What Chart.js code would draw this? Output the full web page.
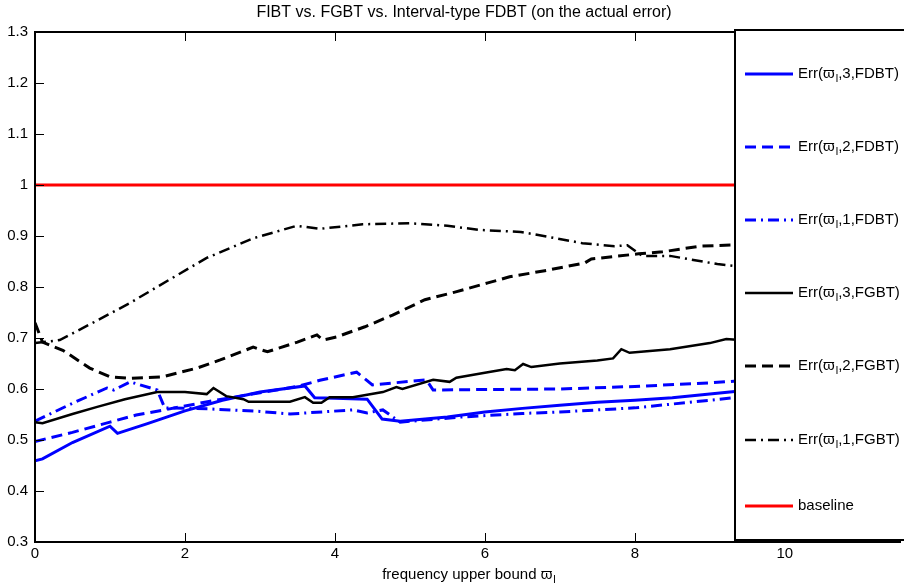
<!DOCTYPE html>
<html>
<head>
<meta charset="utf-8">
<script src="https://cdn.jsdelivr.net/npm/chart.js@4.4.1/dist/chart.umd.min.js"></script>
<style>
  html, body { margin: 0; padding: 0; background: #fff; }
  #c { display: block; }
</style>
</head>
<body>
<canvas id="c" width="904" height="586"></canvas>
<script>
// values
const fdbt3X = [0, 0.1, 0.5, 1.0, 1.1, 1.5, 2.0, 2.5, 3.0, 3.6, 3.73, 4.0, 4.43, 4.63, 4.87, 5.5, 6.0, 6.5, 7.0, 7.5, 8.0, 8.5, 9.0, 9.4];
const fdbt3Y = [0.459, 0.463, 0.495, 0.527, 0.513, 0.532, 0.557, 0.578, 0.594, 0.606, 0.583, 0.582, 0.58, 0.541, 0.537, 0.545, 0.555, 0.562, 0.568, 0.574, 0.578, 0.583, 0.59, 0.596];

const fdbt2X = [0, 0.5, 1.0, 1.35, 1.76, 2.3, 2.73, 3.22, 3.5, 3.8, 4.29, 4.5, 5.22, 5.31, 6.0, 7.0, 8.0, 9.0, 9.4];
const fdbt2Y = [0.497, 0.515, 0.535, 0.549, 0.56, 0.575, 0.586, 0.598, 0.605, 0.617, 0.633, 0.608, 0.618, 0.598, 0.599, 0.6, 0.605, 0.612, 0.616];

const fdbt1X = [0, 0.5, 0.96, 1.05, 1.27, 1.63, 1.73, 2.33, 3.0, 3.4, 4.24, 4.43, 4.64, 4.87, 5.67, 6.5, 7.0, 8.0, 9.0, 9.4];
const fdbt1Y = [0.537, 0.572, 0.602, 0.598, 0.614, 0.598, 0.563, 0.561, 0.556, 0.551, 0.559, 0.553, 0.559, 0.535, 0.545, 0.552, 0.555, 0.563, 0.578, 0.584];

const fgbt3X = [0, 0.1, 0.5, 0.83, 1.2, 1.63, 2.0, 2.29, 2.38, 2.55, 2.78, 2.85, 3.4, 3.6, 3.71, 3.82, 3.93, 4.24, 4.64, 4.82, 4.9, 5.31, 5.53, 5.62, 6.0, 6.29, 6.4, 6.51, 6.62, 7.0, 7.5, 7.71, 7.82, 7.93, 8.47, 9.0, 9.22, 9.4];
const fgbt3Y = [0.535, 0.533, 0.551, 0.565, 0.58, 0.594, 0.594, 0.59, 0.602, 0.586, 0.58, 0.575, 0.575, 0.584, 0.573, 0.573, 0.584, 0.584, 0.594, 0.604, 0.6, 0.618, 0.614, 0.622, 0.632, 0.639, 0.637, 0.649, 0.643, 0.65, 0.656, 0.66, 0.678, 0.671, 0.678, 0.69, 0.698, 0.696];

const fgbt2X = [0, 0.1, 0.37, 0.73, 1.0, 1.27, 1.7, 2.16, 2.47, 2.91, 3.1, 3.5, 3.76, 3.84, 4.02, 4.4, 4.77, 5.2, 5.6, 6.04, 6.33, 6.8, 7.33, 7.42, 8.05, 8.37, 8.87, 9.4];
const fgbt2Y = [0.73, 0.692, 0.676, 0.641, 0.624, 0.621, 0.624, 0.641, 0.657, 0.682, 0.673, 0.692, 0.706, 0.696, 0.702, 0.722, 0.745, 0.775, 0.79, 0.808, 0.82, 0.832, 0.847, 0.855, 0.865, 0.869, 0.88, 0.883];

const fgbt1X = [0, 0.33, 0.8, 1.27, 1.8, 2.29, 2.9, 3.49, 3.6, 3.8, 4.37, 5.0, 5.5, 5.93, 6.48, 7.3, 7.73, 7.9, 8.1, 8.47, 9.1, 9.4];
const fgbt1Y = [0.69, 0.696, 0.732, 0.769, 0.815, 0.857, 0.895, 0.92, 0.918, 0.914, 0.923, 0.925, 0.92, 0.912, 0.908, 0.886, 0.88, 0.882, 0.861, 0.861, 0.845, 0.84];

const baselineX = [0, 9.4];
const baselineY = [1, 1];

const seriesLabels = ['Err(ϖ_l,3,FDBT)', 'Err(ϖ_l,2,FDBT)', 'Err(ϖ_l,1,FDBT)',
                      'Err(ϖ_l,3,FGBT)', 'Err(ϖ_l,2,FGBT)', 'Err(ϖ_l,1,FGBT)', 'baseline'];
const titleText = 'FIBT vs. FGBT vs. Interval-type FDBT (on the actual error)';
const xTitle = 'frequency upper bound ϖ_l';

const FONT = '"Liberation Sans", Arial, Helvetica, sans-serif';
const DASH = [11, 6];
const DASHDOT = [11, 5, 2, 5];

function pts(xs, ys) {
  return xs.map((x, i) => ({ x: x, y: ys[i] }));
}

function line(label, xs, ys, color, dash, width, order) {
  return {
    label: label,
    data: pts(xs, ys),
    borderColor: color,
    borderDash: dash,
    borderWidth: width,
    pointRadius: 0,
    tension: 0,
    fill: false,
    order: order
  };
}

// draw "abc_l def" with a small lowered subscript after "_"
function subText(ctx, text, x, y, size) {
  const parts = text.split('_');
  ctx.font = size + 'px ' + FONT;
  ctx.fillText(parts[0], x, y);
  x += ctx.measureText(parts[0]).width;
  if (parts.length > 1) {
    const sub = parts[1].charAt(0);
    const rest = parts[1].slice(1);
    ctx.font = Math.round(size * 0.7) + 'px ' + FONT;
    ctx.fillText(sub, x + 1, y + size * 0.35);
    x += ctx.measureText(sub).width + 1;
    ctx.font = size + 'px ' + FONT;
    ctx.fillText(rest, x, y);
    x += ctx.measureText(rest).width;
  }
  return x;
}

function textWidth(ctx, text, size) {
  const parts = text.split('_');
  ctx.font = size + 'px ' + FONT;
  let w = ctx.measureText(parts[0]).width;
  if (parts.length > 1) {
    w += ctx.measureText(parts[1].slice(1)).width;
    ctx.font = Math.round(size * 0.7) + 'px ' + FONT;
    w += ctx.measureText(parts[1].charAt(0)).width + 1;
  }
  return w;
}

const decor = {
  id: 'decor',
  afterDraw(chart) {
    const ctx = chart.ctx;
    const a = chart.chartArea;
    const xs = chart.scales.x, ys = chart.scales.y;
    ctx.save();
    ctx.strokeStyle = '#000';
    ctx.fillStyle = '#000';

    // inward ticks
    ctx.lineWidth = 1;
    ctx.beginPath();
    xs.ticks.forEach(t => {
      const px = Math.round(xs.getPixelForValue(t.value)) + 0.5;
      ctx.moveTo(px, a.bottom); ctx.lineTo(px, a.bottom - 9);
      ctx.moveTo(px, a.top); ctx.lineTo(px, a.top + 9);
    });
    ys.ticks.forEach(t => {
      const py = Math.round(ys.getPixelForValue(t.value)) + 0.5;
      ctx.moveTo(a.left, py); ctx.lineTo(a.left + 9, py);
    });
    ctx.stroke();

    // axes box
    ctx.lineWidth = 2;
    ctx.beginPath();
    ctx.moveTo(a.right, a.top); ctx.lineTo(a.left, a.top);
    ctx.lineTo(a.left, a.bottom); ctx.lineTo(a.right, a.bottom);
    ctx.stroke();

    // legend box
    const lx = 735, ly = 30, lw = 200, lh = 510;
    ctx.fillStyle = '#fff';
    ctx.fillRect(lx, ly, lw, lh);
    ctx.lineWidth = 2;
    ctx.strokeRect(lx, ly, lw, lh);
    const rows = [74, 147, 220, 293, 366, 440, 506];
    chart.data.datasets.forEach((ds, i) => {
      const y = rows[i];
      ctx.strokeStyle = ds.borderColor;
      ctx.lineWidth = ds.borderWidth;
      ctx.setLineDash(ds.borderDash || []);
      ctx.beginPath();
      ctx.moveTo(745, y); ctx.lineTo(793, y);
      ctx.stroke();
      ctx.setLineDash([]);
      ctx.fillStyle = '#000';
      ctx.textAlign = 'left';
      ctx.textBaseline = 'middle';
      subText(ctx, ds.label, 798, y, 15);
    });

    // title
    ctx.fillStyle = '#000';
    ctx.textBaseline = 'middle';
    ctx.textAlign = 'center';
    ctx.font = '16px ' + FONT;
    ctx.fillText(titleText, 464, 13);

    // x axis title
    ctx.textAlign = 'left';
    const w = textWidth(ctx, xTitle, 15);
    subText(ctx, xTitle, 469 - w / 2, 575, 15);
    ctx.restore();
  }
};

new Chart(document.getElementById('c'), {
  type: 'line',
  data: {
    datasets: [
      line(seriesLabels[0], fdbt3X, fdbt3Y, '#0000ff', [], 3, 7),
      line(seriesLabels[1], fdbt2X, fdbt2Y, '#0000ff', DASH, 3, 6),
      line(seriesLabels[2], fdbt1X, fdbt1Y, '#0000ff', DASHDOT, 3, 5),
      line(seriesLabels[3], fgbt3X, fgbt3Y, '#000000', [], 2.5, 4),
      line(seriesLabels[4], fgbt2X, fgbt2Y, '#000000', DASH, 3, 3),
      line(seriesLabels[5], fgbt1X, fgbt1Y, '#000000', DASHDOT, 2.5, 2),
      line(seriesLabels[6], baselineX, baselineY, '#ff0000', [], 3, 1)
    ]
  },
  options: {
    responsive: false,
    animation: false,
    devicePixelRatio: 1,
    layout: { padding: { top: 32, right: 3, left: 0, bottom: 0 } },
    plugins: { legend: { display: false }, title: { display: false }, tooltip: { enabled: false } },
    scales: {
      x: {
        type: 'linear',
        min: 0,
        max: 11.55,
        grid: { display: false, drawTicks: false },
        border: { display: false },
        ticks: {
          stepSize: 2,
          includeBounds: false,
          padding: 3,
          color: '#000',
          font: { family: FONT, size: 15 },
          maxRotation: 0
        },
        afterFit(s) { s.height = 44; }
      },
      y: {
        type: 'linear',
        min: 0.3,
        max: 1.3,
        grid: { display: false, drawTicks: false },
        border: { display: false },
        ticks: {
          stepSize: 0.1,
          padding: 7,
          color: '#000',
          font: { family: FONT, size: 15 },
          callback: v => String(+v.toFixed(1))
        },
        afterFit(s) { s.width = 35; }
      }
    }
  },
  plugins: [decor]
});
</script>
</body>
</html>
